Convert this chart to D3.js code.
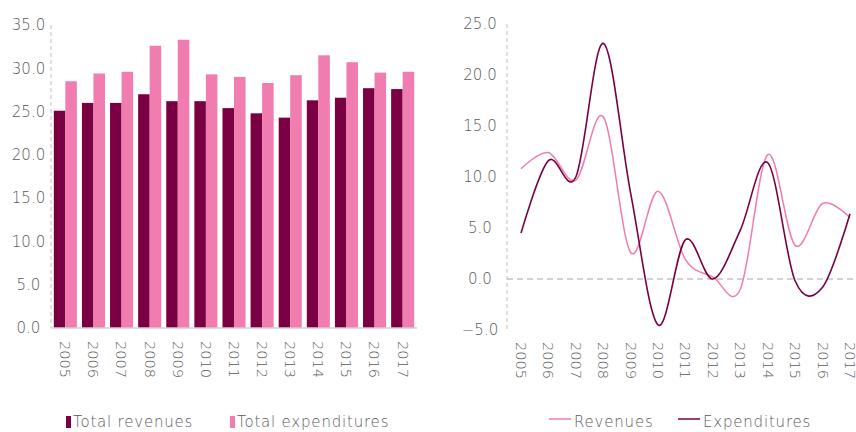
<!DOCTYPE html>
<html>
<head>
<meta charset="utf-8">
<script src="https://cdn.jsdelivr.net/npm/d3@7"></script>
<style>
  body { margin: 0; background: #fff; }
  svg text { font-family: "DejaVu Sans", sans-serif; font-weight: 200; fill: #595959; }
</style>
</head>
<body>
<div id="chart"></div>
<script>
// data
const years = ['2005', '2006', '2007', '2008', '2009', '2010', '2011', '2012', '2013', '2014', '2015', '2016', '2017'];
const totalRevenues = [25.1, 26.0, 26.0, 27.0, 26.2, 26.2, 25.4, 24.8, 24.3, 26.3, 26.6, 27.7, 27.6];
const totalExpenditures = [28.5, 29.4, 29.6, 32.6, 33.3, 29.3, 29.0, 28.3, 29.2, 31.5, 30.7, 29.5, 29.6];
const revenuesGrowth = [10.8, 12.4, 9.7, 15.9, 2.6, 8.6, 1.9, 0.2, -1.0, 12.2, 3.3, 7.4, 6.0];
const expendituresGrowth = [4.5, 11.6, 10.0, 23.1, 8.4, -4.5, 3.85, 0.0, 4.8, 11.4, -0.2, -0.8, 6.4];
const barTicks = [0, 5, 10, 15, 20, 25, 30, 35];
const lineTicks = [-5, 0, 5, 10, 15, 20, 25];

const dark = '#7b0043';
const pink = '#f07cb0';
const fmt = d3.format('.1f');

const svg = d3.select('#chart').append('svg')
    .attr('width', 856)
    .attr('height', 432);

// ---------- left: bars ----------
const left = svg.append('g');
const xBand = d3.scaleBand().domain(years).range([51, 417]).paddingInner(0.18).paddingOuter(0.1);
const xSeries = d3.scaleBand().domain(['rev', 'exp']).range([0, xBand.bandwidth()]);
const yBar = d3.scaleLinear().domain([0, 35]).range([328, 25]);

left.append('line')
    .attr('x1', 51).attr('x2', 51)
    .attr('y1', yBar(35)).attr('y2', yBar(0))
    .attr('stroke', '#bfbfbf').attr('stroke-dasharray', '4,3');

left.selectAll('text.ytick').data(barTicks).enter().append('text')
    .attr('class', 'ytick')
    .attr('x', 28.5)
    .attr('y', d => yBar(d))
    .attr('dy', '0.35em')
    .attr('text-anchor', 'middle')
    .style('font-size', '15px')
    .text(d => fmt(d));

const groups = left.selectAll('g.year').data(years).enter().append('g')
    .attr('class', 'year')
    .attr('transform', d => `translate(${xBand(d)},0)`);

groups.append('rect')
    .attr('x', xSeries('rev'))
    .attr('width', xSeries.bandwidth())
    .attr('y', (d, i) => yBar(totalRevenues[i]))
    .attr('height', (d, i) => yBar(0) - yBar(totalRevenues[i]))
    .attr('fill', dark);

groups.append('rect')
    .attr('x', xSeries('exp'))
    .attr('width', xSeries.bandwidth())
    .attr('y', (d, i) => yBar(totalExpenditures[i]))
    .attr('height', (d, i) => yBar(0) - yBar(totalExpenditures[i]))
    .attr('fill', pink);

left.append('line')
    .attr('x1', 51).attr('x2', 417)
    .attr('y1', yBar(0)).attr('y2', yBar(0))
    .attr('stroke', '#d0d0d0').attr('stroke-width', 1.5);

left.selectAll('text.xtick').data(years).enter().append('text')
    .attr('class', 'xtick')
    .attr('transform', d => `translate(${xBand(d) + xBand.bandwidth() / 2},341) rotate(90)`)
    .attr('dy', '0.35em')
    .style('font-size', '14.5px')
    .text(d => d);

// legend
const barLegend = [
    { name: 'Total revenues', color: dark, x: 66 },
    { name: 'Total expenditures', color: pink, x: 230 }
];
const bl = left.selectAll('g.legend').data(barLegend).enter().append('g')
    .attr('class', 'legend')
    .attr('transform', d => `translate(${d.x},0)`);
bl.append('rect').attr('x', 0).attr('y', 416).attr('width', 5).attr('height', 12).attr('fill', d => d.color);
bl.append('text').attr('x', 7).attr('y', 427)
    .style('font-size', '15px').style('letter-spacing', '0.8px')
    .text(d => d.name);

// ---------- right: lines ----------
const right = svg.append('g');
const xPoint = d3.scalePoint().domain(years).range([521, 850]);
const yLine = d3.scaleLinear().domain([-5, 25]).range([330, 24]);

right.append('line')
    .attr('x1', 507).attr('x2', 507)
    .attr('y1', yLine(25)).attr('y2', yLine(-5))
    .attr('stroke', '#bfbfbf').attr('stroke-dasharray', '4,3');

right.append('line')
    .attr('x1', 507).attr('x2', 856)
    .attr('y1', yLine(0)).attr('y2', yLine(0))
    .attr('stroke', '#a6a6a6').attr('stroke-dasharray', '6,4');

right.selectAll('text.ytick').data(lineTicks).enter().append('text')
    .attr('class', 'ytick')
    .attr('x', 480)
    .attr('y', d => yLine(d))
    .attr('dy', '0.35em')
    .attr('text-anchor', 'middle')
    .style('font-size', '15px')
    .text(d => fmt(d));

const line = d3.line()
    .x((d, i) => xPoint(years[i]))
    .y(d => yLine(d))
    .curve(d3.curveCardinal.tension(0));

right.append('path')
    .attr('d', line(revenuesGrowth))
    .attr('fill', 'none').attr('stroke', pink).attr('stroke-width', 1.5);

right.append('path')
    .attr('d', line(expendituresGrowth))
    .attr('fill', 'none').attr('stroke', dark).attr('stroke-width', 1.6);

right.selectAll('text.xtick').data(years).enter().append('text')
    .attr('class', 'xtick')
    .attr('transform', d => `translate(${xPoint(d)},342) rotate(90)`)
    .attr('dy', '0.35em')
    .style('font-size', '14.5px')
    .text(d => d);

const lineLegend = [
    { name: 'Revenues', color: pink, x: 549 },
    { name: 'Expenditures', color: dark, x: 678 }
];
const ll = right.selectAll('g.legend').data(lineLegend).enter().append('g')
    .attr('class', 'legend')
    .attr('transform', d => `translate(${d.x},0)`);
ll.append('line').attr('x1', 0).attr('x2', 22).attr('y1', 419).attr('y2', 419)
    .attr('stroke', d => d.color).attr('stroke-width', 1.5);
ll.append('text').attr('x', 25).attr('y', 427)
    .style('font-size', '15px').style('letter-spacing', '0.8px')
    .text(d => d.name);
</script>
</body>
</html>
